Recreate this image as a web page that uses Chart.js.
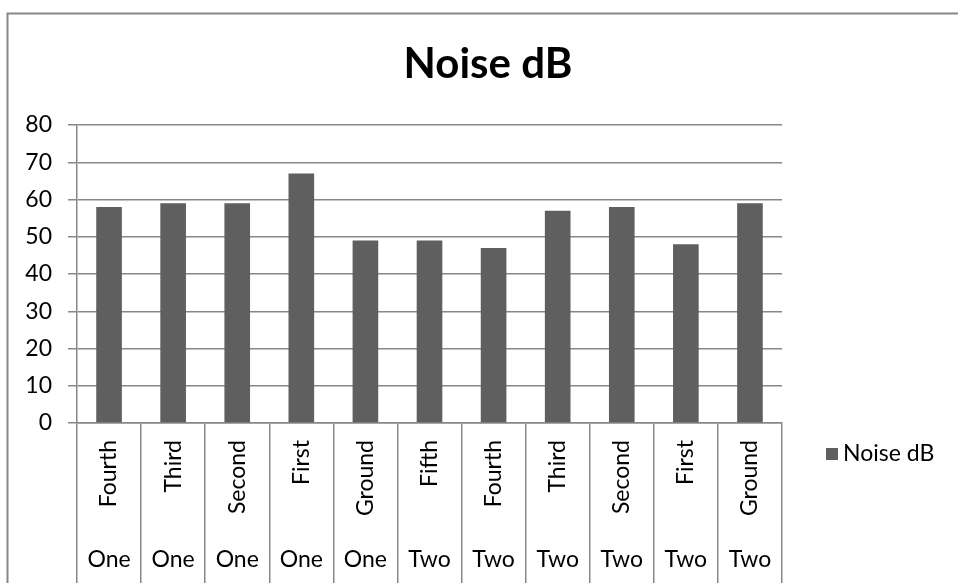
<!DOCTYPE html>
<html>
<head>
<meta charset="utf-8">
<script src="https://cdn.jsdelivr.net/npm/chart.js@4.4.0/dist/chart.umd.min.js"></script>
<style>
  html, body { margin: 0; padding: 0; background: #fff; overflow: hidden; }
  #wrap { width: 958px; height: 583px; }
</style>
</head>
<body>
<div id="wrap"><canvas id="c" width="958" height="583"></canvas></div>
<script>
// Measured noise level per floor, grouped by building
const floors    = ['Fourth', 'Third', 'Second', 'First', 'Ground', 'Fifth', 'Fourth', 'Third', 'Second', 'First', 'Ground'];
const buildings = ['One', 'One', 'One', 'One', 'One', 'Two', 'Two', 'Two', 'Two', 'Two', 'Two'];
const noiseDb   = [58, 59, 59, 67, 49, 49, 47, 57, 58, 48, 59];
const seriesName = 'Noise dB';
const yMin = 0, yMax = 80, yStep = 10;

const FONT = 'Lato';
const TICK_SIZE = 23;
const LINE = '#878787';
const BAR = '#5f5f5f';

// Outer frame of the chart object
const framePlugin = {
  id: 'frame',
  beforeDraw(chart) {
    const ctx = chart.ctx;
    ctx.save();
    ctx.fillStyle = '#fff';
    ctx.fillRect(0, 0, chart.width, chart.height);
    ctx.strokeStyle = LINE;
    ctx.lineWidth = 2;
    ctx.strokeRect(7.5, 13.5, chart.width + 20, chart.height + 20);
    ctx.restore();
  }
};

// Second category level (building) drawn horizontally under the floor labels
const groupLabelPlugin = {
  id: 'groupLabels',
  afterDraw(chart) {
    const ctx = chart.ctx;
    const xs = chart.scales.x;
    ctx.save();
    ctx.fillStyle = '#000';
    ctx.font = `${TICK_SIZE}px ${FONT}`;
    ctx.textAlign = 'center';
    ctx.textBaseline = 'middle';
    buildings.forEach((b, i) => {
      ctx.fillText(b, xs.getPixelForValue(i), xs.top + 137);
    });
    ctx.restore();
  }
};

// Legend entry to the right of the plot
const sideLegendPlugin = {
  id: 'sideLegend',
  afterDraw(chart) {
    const ctx = chart.ctx;
    const ds = chart.data.datasets[0];
    const x0 = chart.chartArea.right + 44;
    const yc = 454;
    ctx.save();
    ctx.fillStyle = ds.backgroundColor;
    ctx.fillRect(x0, yc - 6, 12, 12);
    ctx.fillStyle = '#000';
    ctx.font = `${TICK_SIZE}px ${FONT}`;
    ctx.textAlign = 'left';
    ctx.textBaseline = 'middle';
    ctx.fillText(ds.label, x0 + 17, yc);
    ctx.restore();
  }
};

new Chart(document.getElementById('c'), {
  type: 'bar',
  data: {
    labels: floors,
    datasets: [{
      label: seriesName,
      data: noiseDb,
      backgroundColor: BAR,
      borderWidth: 0,
      categoryPercentage: 1,
      barPercentage: 0.4
    }]
  },
  options: {
    responsive: false,
    animation: false,
    devicePixelRatio: 1,
    layout: { padding: { left: 18, right: 0, top: 0, bottom: 0 } },
    plugins: {
      legend: { display: false },
      tooltip: { enabled: false },
      title: {
        display: true,
        text: seriesName,
        color: '#000',
        font: { family: FONT, size: 42, weight: 'bold' },
        padding: { top: 39, bottom: 35.6 }
      }
    },
    scales: {
      x: {
        grid: {
          display: true,
          drawOnChartArea: false,
          offset: true,
          tickLength: 160,
          color: LINE,
          lineWidth: 1.5
        },
        border: { color: LINE, width: 1.5 },
        ticks: {
          autoSkip: false,
          minRotation: 90,
          maxRotation: 90,
          padding: -143,
          color: '#000',
          font: { family: FONT, size: TICK_SIZE }
        },
        afterFit(s) { s.height = 160; }
      },
      y: {
        min: yMin,
        max: yMax,
        ticks: {
          stepSize: yStep,
          color: '#000',
          padding: 16,
          font: { family: FONT, size: TICK_SIZE }
        },
        grid: { color: LINE, lineWidth: 1.5, tickLength: 9 },
        border: { color: LINE, width: 1.5 },
        afterFit(s) { s.width = 59; }
      },
      // empty right-hand gutter that holds the legend
      gutter: {
        position: 'right',
        display: true,
        grid: { display: false },
        border: { display: false },
        ticks: { display: false },
        afterFit(s) { s.width = 176; }
      }
    }
  },
  plugins: [framePlugin, groupLabelPlugin, sideLegendPlugin]
});
</script>
</body>
</html>
